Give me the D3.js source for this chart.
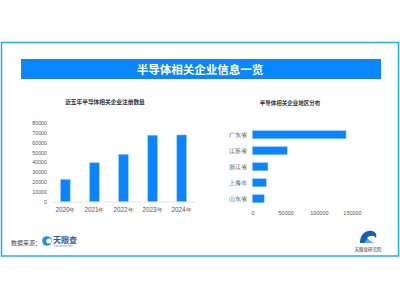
<!DOCTYPE html>
<html>
<head>
<meta charset="utf-8">
<script src="https://cdn.jsdelivr.net/npm/d3@7"></script>
<style>
  body { margin: 0; background: #fff; }
  svg { display: block; font-family: "Noto Sans CJK SC", "Noto Sans", sans-serif; }
</style>
</head>
<body>
<div id="chart"></div>
<script>
// 半导体相关企业信息一览
const years = ["2020年", "2021年", "2022年", "2023年", "2024年"];
const yearCounts = [22500, 39500, 48000, 67500, 67800];
const yearTicks = [0, 10000, 20000, 30000, 40000, 50000, 60000, 70000, 80000];

const regions = ["广东省", "江苏省", "浙江省", "上海市", "山东省"];
const regionCounts = [141000, 52300, 23200, 20700, 17600];
const regionTicks = [0, 50000, 100000, 150000];

const W = 400, H = 300;
const blue = "#0a84ff";

const svg = d3.select("#chart").append("svg")
  .attr("width", W)
  .attr("height", H);

// outer frame
svg.append("rect")
  .attr("x", 1.5).attr("y", 42.5)
  .attr("width", 397).attr("height", 213.5)
  .attr("fill", "#fff")
  .attr("stroke", "#2fa6f5")
  .attr("stroke-width", 1.5);

// title banner
svg.append("rect")
  .attr("x", 21).attr("y", 59)
  .attr("width", 360).attr("height", 20)
  .attr("fill", "#0a87ff");
svg.append("text")
  .attr("x", 200).attr("y", 69)
  .attr("text-anchor", "middle")
  .attr("dominant-baseline", "central")
  .attr("fill", "#fff")
  .attr("font-size", 11.5)
  .attr("font-weight", "bold")
  .text("半导体相关企业信息一览");

// ---- left: bars by year ----
const x1 = d3.scaleBand().domain(years).range([51, 196])
  .paddingInner(0.67).paddingOuter(0.33);
const y1 = d3.scaleLinear().domain([0, 80000]).range([201.5, 123]);

svg.append("text")
  .attr("x", 105).attr("y", 101)
  .attr("text-anchor", "middle")
  .attr("dominant-baseline", "central")
  .attr("font-size", 5.7)
  .attr("font-weight", "bold")
  .attr("fill", "#333")
  .text("近五年半导体相关企业注册数量");

const gy1 = svg.append("g")
  .attr("transform", "translate(51,0)")
  .call(d3.axisLeft(y1).tickValues(yearTicks).tickFormat(d3.format("d")).tickSize(0).tickPadding(4));
gy1.select(".domain").remove();
gy1.selectAll("text").attr("font-size", 5.3).attr("fill", "#555").attr("font-family", "inherit");

const gx1 = svg.append("g")
  .attr("transform", "translate(0,201.5)")
  .call(d3.axisBottom(x1).tickSize(0).tickPadding(6));
gx1.select(".domain").attr("stroke", "#ddd").attr("stroke-width", 0.7);
gx1.selectAll("text").attr("font-size", 6.3).attr("fill", "#555").attr("font-family", "inherit");

svg.append("g").selectAll("rect")
  .data(years)
  .join("rect")
  .attr("x", d => x1(d))
  .attr("y", (d, i) => y1(yearCounts[i]))
  .attr("width", x1.bandwidth())
  .attr("height", (d, i) => y1(0) - y1(yearCounts[i]))
  .attr("fill", blue)
  .attr("stroke", "#8cc6ff")
  .attr("stroke-width", 0.5);

// ---- right: bars by region ----
const x2 = d3.scaleLinear().domain([0, 150000]).range([252.5, 352]);
const y2 = d3.scaleBand().domain(regions).range([126.7, 206.7])
  .paddingInner(0.5).paddingOuter(0.25);

svg.append("text")
  .attr("x", 290).attr("y", 103)
  .attr("text-anchor", "middle")
  .attr("dominant-baseline", "central")
  .attr("font-size", 5.5)
  .attr("font-weight", "bold")
  .attr("fill", "#333")
  .text("半导体相关企业地区分布");

const gy2 = svg.append("g")
  .attr("transform", "translate(252.5,0)")
  .call(d3.axisLeft(y2).tickSize(0).tickPadding(6));
gy2.select(".domain").attr("stroke", "#e6e6e6").attr("stroke-width", 0.7);
gy2.selectAll("text").attr("font-size", 6).attr("fill", "#444").attr("font-family", "inherit");

const gx2 = svg.append("g")
  .attr("transform", "translate(0,209)")
  .call(d3.axisBottom(x2).tickValues(regionTicks).tickFormat(d3.format("d")).tickSize(0).tickPadding(2));
gx2.select(".domain").remove();
gx2.selectAll("text").attr("font-size", 5.5).attr("fill", "#555").attr("font-family", "inherit");

svg.append("g").selectAll("rect")
  .data(regions)
  .join("rect")
  .attr("x", x2(0))
  .attr("y", d => y2(d))
  .attr("width", (d, i) => x2(regionCounts[i]) - x2(0))
  .attr("height", y2.bandwidth())
  .attr("fill", blue)
  .attr("stroke", "#8cc6ff")
  .attr("stroke-width", 0.5);

// ---- footer ----
svg.append("text")
  .attr("x", 11).attr("y", 242)
  .attr("dominant-baseline", "central")
  .attr("font-size", 6)
  .attr("fill", "#444")
  .text("数据来源：");

// source logo
const logo = svg.append("g").attr("transform", "translate(47,241)");
logo.append("circle").attr("r", 4.8).attr("fill", "#1c8cf0");
logo.append("circle").attr("cx", 1.8).attr("r", 2.6).attr("fill", "#fff");
logo.append("text")
  .attr("x", 6).attr("y", -1.5)
  .attr("dominant-baseline", "central")
  .attr("font-size", 8)
  .attr("font-weight", "bold")
  .attr("fill", "#1a5fb4")
  .text("天眼查");
logo.append("text")
  .attr("x", 6.5).attr("y", 4.5)
  .attr("dominant-baseline", "central")
  .attr("font-size", 2.5)
  .attr("fill", "#888")
  .text("TianYancha.com");

// research institute logo
const inst = svg.append("g").attr("transform", "translate(368,238)");
inst.append("path")
  .attr("d", "M-8,5 C-8,-4 -2,-8 4,-7 C8,-6 9,-3 8,0 C6,-3 2,-3 -1,0 L4,5 Z")
  .attr("fill", "#1a5fb4");
inst.append("path")
  .attr("d", "M-1,1 L6,5 L-4,5 Z")
  .attr("fill", "#5aa8f0");
inst.append("text")
  .attr("x", 0).attr("y", 10.5)
  .attr("text-anchor", "middle")
  .attr("dominant-baseline", "central")
  .attr("font-size", 4.5)
  .attr("fill", "#333")
  .text("天眼查研究院");
</script>
</body>
</html>
